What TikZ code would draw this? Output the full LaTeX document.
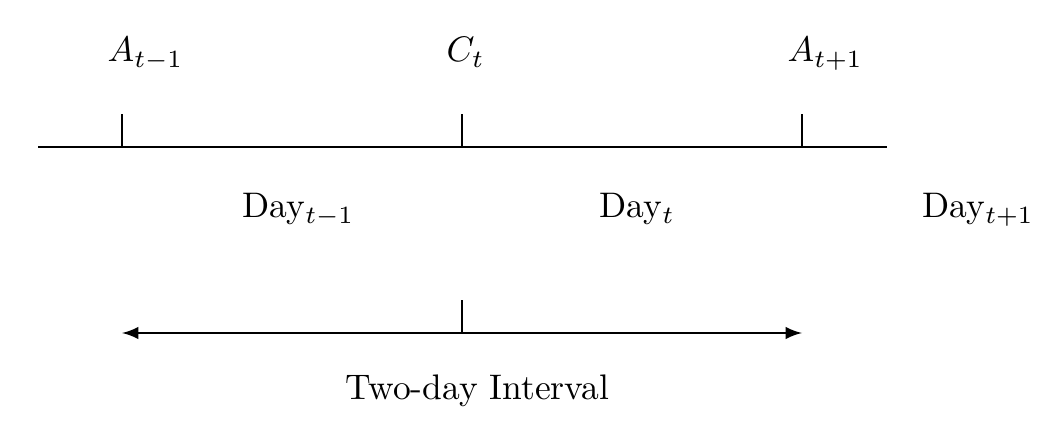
\documentclass[tikz,border=0pt]{standalone}
\usetikzlibrary{arrows}
\begin{document}
\begin{tikzpicture}[x=0.29pt,y=-0.29pt,
  ln/.style={line width=0.65pt},
  lbl/.style={anchor=base west,inner sep=0pt,scale=1.03,transform shape}]
\useasboundingbox (0,0) rectangle (1048,430);
% main line
\coordinate (L0) at (38,147);
\coordinate (L1) at (887,147);
\draw[ln] (L0) -- (L1);
\coordinate (T1) at (122,147); \coordinate (T1u) at (122,114);
\coordinate (T2) at (462,147); \coordinate (T2u) at (462,114);
\coordinate (T3) at (802,147); \coordinate (T3u) at (802,114);
\draw[ln] (T1) -- (T1u);
\draw[ln] (T2) -- (T2u);
\draw[ln] (T3) -- (T3u);
% labels
\node[lbl] (a1) at (107,62) {$A_{t-1}$};
\node[lbl] (ct) at (446,62) {$C_t$};
\node[lbl] (a2) at (787,62) {$A_{t+1}$};
\node[lbl] (d1) at (242,218) {Day$_{t-1}$};
\node[lbl] (d2) at (599,218) {Day$_{t}$};
\node[lbl] (d3) at (922,218) {Day$_{t+1}$};
% interval
\coordinate (I0) at (122,333);
\coordinate (I1) at (802,333);
\coordinate (Im) at (462,333); \coordinate (Imu) at (462,300);
\draw[ln,latex-latex] (I0) -- (I1);
\draw[ln] (Im) -- (Imu);
\node[lbl] (two) at (345,399) {Two-day Interval};
\end{tikzpicture}
\end{document}
